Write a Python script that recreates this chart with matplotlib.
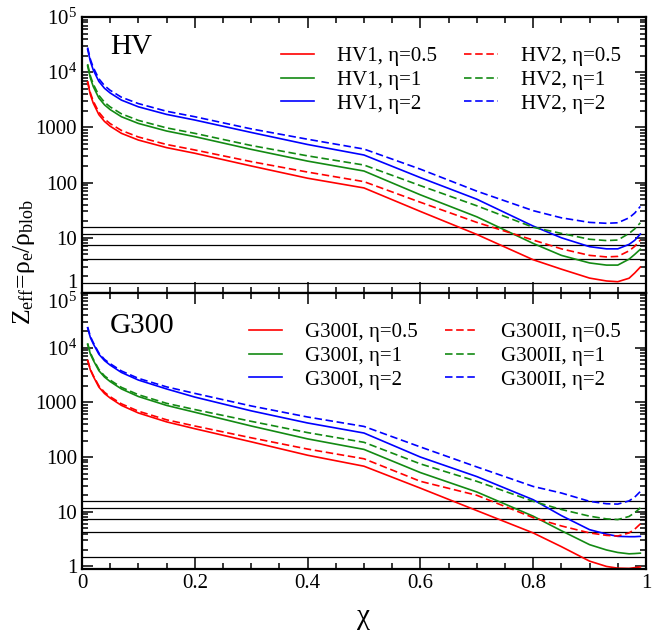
import numpy as np
import matplotlib
matplotlib.use('Agg')
import matplotlib.pyplot as plt
from matplotlib.ticker import LogLocator, MultipleLocator, FuncFormatter, NullFormatter

plt.rcParams['font.family'] = ['Liberation Serif', 'DejaVu Serif']
plt.rcParams['mathtext.fontset'] = 'custom'
plt.rcParams['mathtext.rm'] = 'Liberation Serif'
plt.rcParams['mathtext.it'] = 'Liberation Serif:italic'

# chi grid
chi = [0.01, 0.015, 0.02, 0.03, 0.04, 0.05, 0.07, 0.1, 0.15, 0.2, 0.3, 0.4,
       0.5, 0.6, 0.7, 0.8, 0.85, 0.9, 0.93, 0.95, 0.97, 0.98, 0.99]

# top panel (HV)
hv1_05 = [6500, 3900, 2750, 1700, 1280, 1050, 780, 590, 430, 340, 200, 120,
          80, 30, 11.5, 4.0, 2.7, 1.86, 1.65, 1.6, 1.85, 2.3, 2.95]
hv1_1 = [13000, 7800, 5500, 3400, 2560, 2100, 1560, 1180, 860, 680, 400, 245,
         162, 60, 24, 7.9, 4.8, 3.5, 3.2, 3.2, 4.1, 5.0, 6.2]
hv1_2 = [26000, 15600, 11000, 6800, 5100, 4200, 3120, 2360, 1720, 1360, 810, 490,
         316, 123, 50, 16.3, 10, 6.9, 6.3, 6.3, 7.6, 9.0, 11.7]
hv2_05 = [6900, 4200, 3000, 1880, 1420, 1170, 880, 670, 490, 390, 240, 155,
          104, 44, 19, 9.1, 6.3, 4.8, 4.5, 4.6, 5.8, 7.0, 9.1]
hv2_1 = [14000, 8500, 6100, 3800, 2850, 2350, 1760, 1340, 980, 780, 470, 305,
         208, 88, 38, 15.5, 12, 9.4, 8.9, 9.1, 12, 14.5, 18.7]
hv2_2 = [28000, 17000, 12200, 7600, 5700, 4700, 3520, 2700, 1960, 1560, 940, 610,
         405, 175, 70, 31, 23, 19, 18.3, 18.7, 23, 28, 37]

# bottom panel (G300)
g1_05 = [5800, 3900, 3000, 1900, 1450, 1200, 880, 640, 440, 330, 190, 108,
         68, 27, 10.5, 4.1, 2.3, 1.25, 1.0, 0.93, 0.92, 0.95, 0.98]
g1_1 = [11500, 7600, 5900, 3800, 2900, 2400, 1760, 1280, 880, 660, 370, 215,
        138, 52, 23, 8.3, 4.5, 2.5, 2.0, 1.8, 1.7, 1.72, 1.75]
g1_2 = [23000, 15200, 11800, 7600, 5800, 4800, 3520, 2560, 1760, 1250, 700, 420,
        275, 100, 44, 16.6, 8.5, 4.7, 3.9, 3.55, 3.5, 3.5, 3.55]
g2_05 = [6000, 4000, 3100, 2000, 1530, 1270, 940, 690, 480, 370, 225, 140,
         93, 36, 20, 7.8, 5.5, 4.1, 3.7, 3.6, 4.1, 4.8, 6.0]
g2_1 = [12000, 8000, 6200, 4000, 3050, 2550, 1880, 1380, 960, 740, 450, 280,
        186, 75, 36, 15.5, 11, 8.3, 7.4, 7.2, 8.2, 9.6, 11.8]
g2_2 = [24000, 16000, 12400, 8000, 6100, 5100, 3750, 2750, 1920, 1460, 860, 540,
        363, 153, 66, 29, 22, 15.5, 14, 13.8, 15.8, 18.5, 23.5]

levels = [16, 11.8, 7.5, 4.2, 1.5]

red = '#ff0000'
green = '#138a13'
blue = '#0000ff'


def yfmt(v, pos):
    if v >= 1e4:
        return r'$10^{%d}$' % round(np.log10(v))
    return '%d' % round(v)


def setup(ax, ylim):
    ax.set_yscale('log')
    ax.set_xlim(0, 1)
    ax.set_ylim(*ylim)
    ax.set_yticks([1, 10, 100, 1000, 1e4, 1e5])
    ax.yaxis.set_major_formatter(FuncFormatter(yfmt))
    ax.yaxis.set_minor_locator(LogLocator(base=10, subs=range(2, 10)))
    ax.yaxis.set_minor_formatter(NullFormatter())
    ax.xaxis.set_major_locator(MultipleLocator(0.2))
    ax.xaxis.set_minor_locator(MultipleLocator(0.05))
    ax.xaxis.set_major_formatter(FuncFormatter(lambda v, p: '%g' % v))
    ax.tick_params(which='both', direction='in', top=True, right=True,
                   labelsize=15, width=1.1)
    ax.tick_params(which='major', length=8)
    ax.tick_params(which='minor', length=4)
    for s in ax.spines.values():
        s.set_linewidth(1.6)
    for lv in levels:
        ax.axhline(lv, color='k', lw=0.9)


fig = plt.figure(figsize=(6.61, 6.39), dpi=100)
ax1 = fig.add_axes([0.124, 0.5415, 0.8533, 0.4319])
ax2 = fig.add_axes([0.124, 0.1088, 0.8533, 0.4327])

setup(ax1, (1, 1e5))
setup(ax2, (0.88, 1e5))

lw = 1.2
dash = (4.5, 2.2)

ax1.plot(chi, hv1_05, color=red, lw=lw, label='HV1, η=0.5')
ax1.plot(chi, hv1_1, color=green, lw=lw, label='HV1, η=1')
ax1.plot(chi, hv1_2, color=blue, lw=lw, label='HV1, η=2')
ax1.plot(chi, hv2_05, color=red, lw=lw, dashes=dash, label='HV2, η=0.5')
ax1.plot(chi, hv2_1, color=green, lw=lw, dashes=dash, label='HV2, η=1')
ax1.plot(chi, hv2_2, color=blue, lw=lw, dashes=dash, label='HV2, η=2')

ax2.plot(chi, g1_05, color=red, lw=lw, label='G300I, η=0.5')
ax2.plot(chi, g1_1, color=green, lw=lw, label='G300I, η=1')
ax2.plot(chi, g1_2, color=blue, lw=lw, label='G300I, η=2')
ax2.plot(chi, g2_05, color=red, lw=lw, dashes=dash, label='G300II, η=0.5')
ax2.plot(chi, g2_1, color=green, lw=lw, dashes=dash, label='G300II, η=1')
ax2.plot(chi, g2_2, color=blue, lw=lw, dashes=dash, label='G300II, η=2')

for ax in (ax1, ax2):
    ax.legend(ncol=2, frameon=False, loc='upper right', bbox_to_anchor=(0.955, 0.893),
              borderaxespad=0, borderpad=0, fontsize=15, handlelength=1.6,
              handletextpad=1.1, columnspacing=1.3, labelspacing=0.2)

ax1.tick_params(labelbottom=False)
# shared edge labels: move them apart like in the original
for t in ax1.get_yticklabels():
    if t.get_text() == '1':
        t.set_va('bottom')
for t in ax2.get_yticklabels():
    if '10^{5}' in t.get_text():
        t.set_va('top')

ax1.text(0.05, 0.89, 'HV', transform=ax1.transAxes, fontsize=21, va='center')
ax2.text(0.05, 0.88, 'G300', transform=ax2.transAxes, fontsize=21, va='center')

ax2.set_xlabel('χ', fontsize=21, labelpad=8)
fig.text(0.036, 0.59, r'Z$_{\rm eff}$=ρ$_{\rm e}$/ρ$_{\rm blob}$', rotation=90,
         fontsize=18.5, ha='center', va='center')

fig.savefig('out.png', dpi=100)
